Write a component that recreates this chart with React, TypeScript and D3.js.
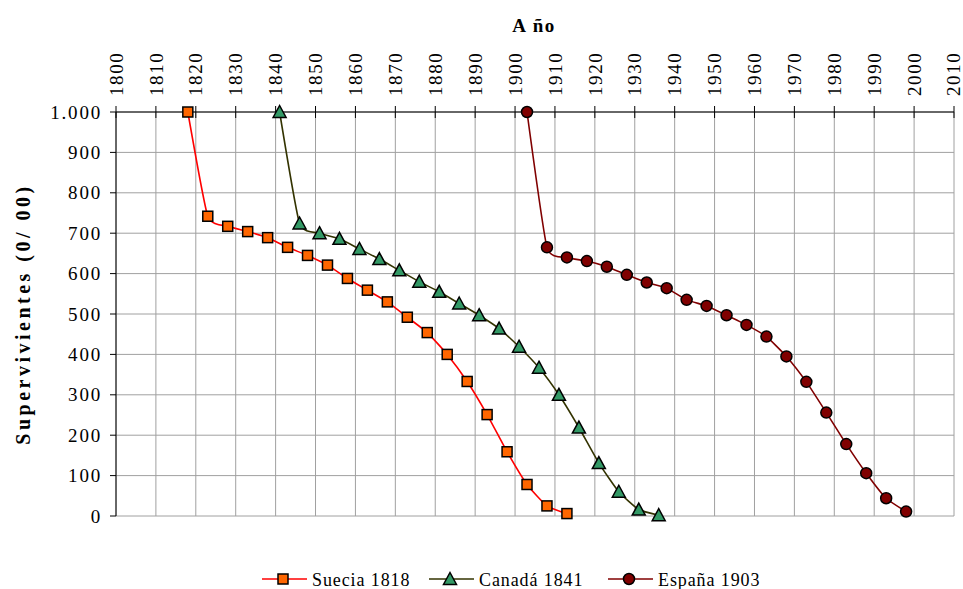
import React from 'react';
import * as d3 from 'd3';

// Años (eje superior) y supervivientes por cohorte
const yearTicks = [1800, 1810, 1820, 1830, 1840, 1850, 1860, 1870, 1880, 1890, 1900, 1910, 1920, 1930, 1940, 1950, 1960, 1970, 1980, 1990, 2000, 2010];
const survTicks = [0, 100, 200, 300, 400, 500, 600, 700, 800, 900, 1000];

const sueciaYears = [1818, 1823, 1828, 1833, 1838, 1843, 1848, 1853, 1858, 1863, 1868, 1873, 1878, 1883, 1888, 1893, 1898, 1903, 1908, 1913];
const sueciaValues = [1000, 742, 717, 704, 689, 665, 645, 621, 588, 559, 530, 492, 454, 400, 333, 251, 159, 78, 25, 6];

const canadaYears = [1841, 1846, 1851, 1856, 1861, 1866, 1871, 1876, 1881, 1886, 1891, 1896, 1901, 1906, 1911, 1916, 1921, 1926, 1931, 1936];
const canadaValues = [1000, 724, 700, 686, 661, 636, 608, 580, 555, 526, 497, 464, 419, 367, 300, 219, 131, 60, 16, 2];

const espanaYears = [1903, 1908, 1913, 1918, 1923, 1928, 1933, 1938, 1943, 1948, 1953, 1958, 1963, 1968, 1973, 1978, 1983, 1988, 1993, 1998];
const espanaValues = [1000, 665, 640, 631, 617, 597, 578, 564, 535, 520, 497, 473, 444, 395, 332, 256, 178, 106, 44, 11];

const seriesNames = ['Suecia 1818', 'Canadá 1841', 'España 1903'];

const W = 963;
const H = 589;
const FONT = '"Liberation Serif", "Times New Roman", serif';

const esLocale = d3.formatLocale({ decimal: ',', thousands: '.', grouping: [3], currency: ['', '€'] });
const fmt = esLocale.format(',d');

type Marker = 'square' | 'triangle' | 'circle';

const series = [
  { name: seriesNames[0], years: sueciaYears, values: sueciaValues, line: '#ff0000', fill: '#ff6600', marker: 'square' as Marker },
  { name: seriesNames[1], years: canadaYears, values: canadaValues, line: '#333300', fill: '#339966', marker: 'triangle' as Marker },
  { name: seriesNames[2], years: espanaYears, values: espanaValues, line: '#800000', fill: '#800000', marker: 'circle' as Marker },
];

const MarkerShape = ({ type, x, y, fill }: { type: Marker; x: number; y: number; fill: string }) => {
  if (type === 'square') {
    return <rect x={x - 5} y={y - 5} width={10} height={10} fill={fill} stroke="#000" strokeWidth={1.5} />;
  }
  if (type === 'triangle') {
    return <path d={`M${x},${y - 6.5}L${x + 6.5},${y + 5.5}L${x - 6.5},${y + 5.5}Z`} fill={fill} stroke="#000" strokeWidth={1.5} />;
  }
  return <circle cx={x} cy={y} r={5.5} fill={fill} stroke="#000" strokeWidth={1.5} />;
};

const App = () => {
  const x = d3.scaleLinear().domain([1800, 2010]).range([116, 954]);
  const y = d3.scaleLinear().domain([0, 1000]).range([516, 112]);

  // suavizado parecido al de Excel, sin rebotes marcados
  const line = d3.line<[number, number]>()
    .x(d => x(d[0]))
    .y(d => y(d[1]))
    .curve(d3.curveCardinal.tension(0.5));

  const legendX = [262, 429, 608];
  const legendY = 579;

  return (
    <svg width={W} height={H} style={{ position: 'absolute', left: 0, top: 0, background: '#fff' }} fontFamily={FONT}>
      {/* rejilla */}
      {survTicks.map(t => (
        <line key={'h' + t} x1={x(1800)} x2={x(2010)} y1={y(t)} y2={y(t)} stroke="#a0a0a0" strokeWidth={1} />
      ))}
      {yearTicks.map(t => (
        <line key={'v' + t} x1={x(t)} x2={x(t)} y1={y(1000)} y2={y(0)} stroke="#a0a0a0" strokeWidth={1} />
      ))}

      {/* eje Y */}
      <line x1={x(1800)} x2={x(1800)} y1={y(1000)} y2={y(0)} stroke="#000" strokeWidth={1} />
      {survTicks.map(t => (
        <g key={'yt' + t}>
          <line x1={x(1800) - 6} x2={x(1800)} y1={y(t)} y2={y(t)} stroke="#000" />
          <text x={x(1800) - 14} y={y(t)} dy="0.35em" textAnchor="end" fontSize={19} letterSpacing={1.8}>{fmt(t)}</text>
        </g>
      ))}

      {/* eje X superior */}
      <line x1={x(1800)} x2={x(2010)} y1={y(1000)} y2={y(1000)} stroke="#000" strokeWidth={1} />
      {yearTicks.map(t => (
        <g key={'xt' + t}>
          <line x1={x(t)} x2={x(t)} y1={y(1000) - 6} y2={y(1000) + 6} stroke="#000" />
          <text transform={`translate(${Math.min(x(t), 953)},${y(1000) - 16}) rotate(-90)`} dy="0.35em" textAnchor="start" fontSize={19} letterSpacing={1.6}>{t}</text>
        </g>
      ))}

      <text x={534} y={32} textAnchor="middle" fontSize={19} fontWeight="bold" letterSpacing={1.5}>A ño</text>
      <text transform={`translate(30,${(y(0) + y(1000)) / 2}) rotate(-90)`} textAnchor="middle" fontSize={20} fontWeight="bold" letterSpacing={3.5}>Supervivientes (0/ 00)</text>

      {/* series */}
      {series.map(s => {
        const pts = s.years.map((yr, i) => [yr, s.values[i]] as [number, number]);
        return (
          <g key={s.name}>
            <path d={line(pts) || ''} fill="none" stroke={s.line} strokeWidth={1.6} />
            {pts.map((p, i) => (
              <MarkerShape key={i} type={s.marker} x={x(p[0])} y={y(p[1])} fill={s.fill} />
            ))}
          </g>
        );
      })}

      {/* leyenda */}
      {series.map((s, i) => (
        <g key={'lg' + i}>
          <line x1={legendX[i]} x2={legendX[i] + 45} y1={legendY} y2={legendY} stroke={s.line} strokeWidth={1.6} />
          <MarkerShape type={s.marker} x={legendX[i] + 21} y={legendY} fill={s.fill} />
          <text x={legendX[i] + 50} y={legendY} dy="0.38em" fontSize={18} letterSpacing={0.9}>{s.name}</text>
        </g>
      ))}
    </svg>
  );
};

export default App;
